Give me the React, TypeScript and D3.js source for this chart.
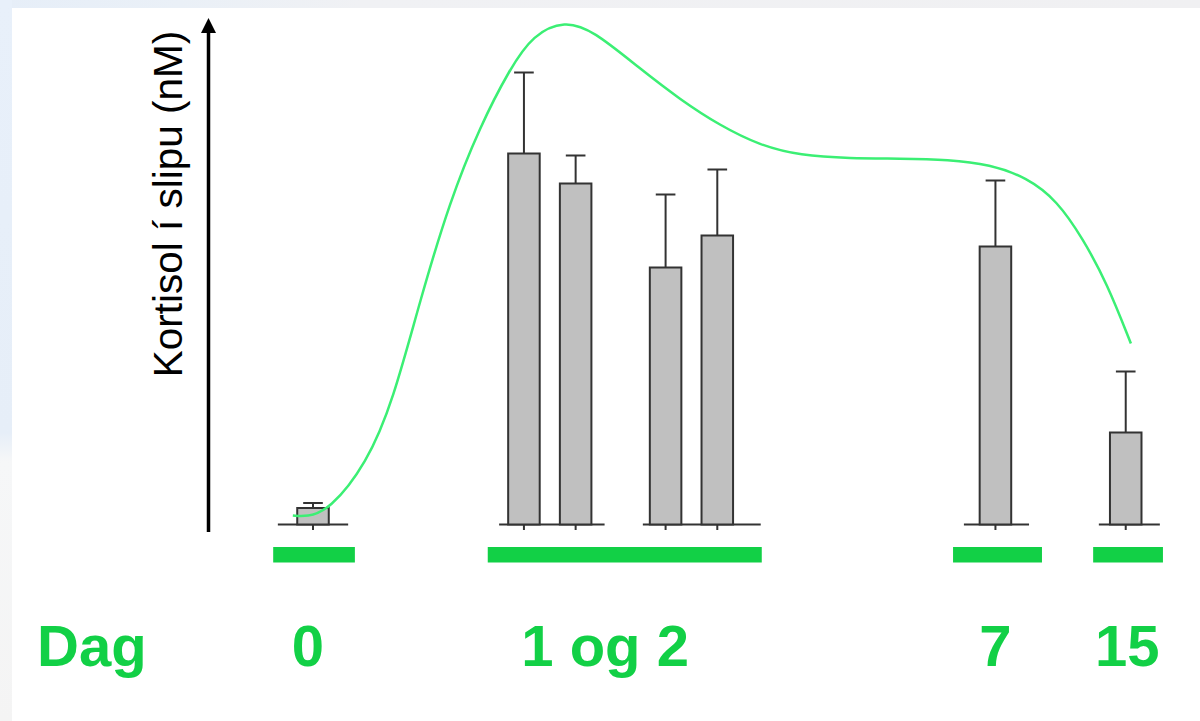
import React from "react";
import * as d3 from "d3";

// ---- Data ----
const barPositions = [0, 4.08, 5.08, 6.82, 7.82, 13.2, 15.72]; // x position units
const barValues = [1.65, 37.1, 34.1, 25.7, 28.9, 27.8, 9.2]; // nM
const barErrors = [0.5, 8.1, 2.8, 7.3, 6.6, 6.6, 6.1]; // nM (upper SD)

// baseline segments under bar groups [start, end] in position units
const baselineStarts = [-0.68, 3.6, 6.38, 12.59, 15.2];
const baselineEnds = [0.68, 5.64, 8.66, 13.85, 16.38];

// day labels and their green marker bars
const dayLabels = ["0", "1 og 2", "7", "15"];
const dayLabelPos = [-0.1, 5.65, 13.2, 15.75];
const dayBarStarts = [-0.77, 3.38, 12.38, 15.09];
const dayBarEnds = [0.81, 8.68, 14.1, 16.44];

// schematic trend curve
const trendX = [-0.39, -0.12, 0.31, 1.04, 1.55, 2.07, 2.65, 3.23, 3.81, 4.26, 4.87, 5.42, 6.32, 7.1, 7.87, 8.65, 9.42, 10.39, 11.35, 12.3, 13.09, 13.81, 14.39, 14.89, 15.36, 15.82];
const trendY = [0.9, 0.77, 1.4, 6.1, 12.4, 22.4, 32.4, 39.8, 45.6, 49.0, 50.4, 49.4, 45.6, 42.5, 39.9, 37.9, 36.9, 36.6, 36.6, 36.5, 36.0, 34.7, 32.4, 28.6, 24.1, 18.1];

const yLabel = "Kortisol í slipu (nM)";
const xTitle = "Dag";

export default function App() {
  const W = 1200;
  const H = 721;
  const x = d3.scaleLinear().domain([0, 16]).range([313, 313 + 16 * 51.7]);
  const y = d3.scaleLinear().domain([0, 50]).range([524.5, 24.5]);
  const unit = x(1) - x(0);
  const barW = 0.61 * unit;
  const capW = 0.38 * unit;
  const green = "#12d046";
  const stroke = "#333333";

  const line = d3
    .line<number>()
    .x((_, i) => x(trendX[i]))
    .y((d) => y(d))
    .curve(d3.curveBasis);

  const axisX = 208.5;

  return (
    <svg
      width={W}
      height={H}
      style={{ position: "absolute", left: 0, top: 0, display: "block" }}
    >
      <defs>
        <linearGradient id="topg" x1="0" x2="1" y1="0" y2="0">
          <stop offset="0" stopColor="#e6eef8" />
          <stop offset="0.15" stopColor="#eaf0f7" />
          <stop offset="0.3" stopColor="#f0f1f4" />
          <stop offset="1" stopColor="#f0f0f2" />
        </linearGradient>
        <linearGradient id="leftg" x1="0" x2="0" y1="0" y2="1">
          <stop offset="0" stopColor="#e8f0fa" />
          <stop offset="0.6" stopColor="#e6eef8" />
          <stop offset="0.64" stopColor="#f6f7f8" />
          <stop offset="1" stopColor="#f4f4f4" />
        </linearGradient>
      </defs>
      <rect x={0} y={0} width={W} height={H} fill="#ffffff" />
      <rect x={0} y={0} width={W} height={8} fill="url(#topg)" />
      <rect x={0} y={0} width={12} height={H} fill="url(#leftg)" />

      {/* y axis with arrow */}
      <line x1={axisX} x2={axisX} y1={532} y2={30} stroke="#000" strokeWidth={3.5} />
      <path
        d={`M${axisX - 7.5},33 L${axisX},18 L${axisX + 7.5},33 Z`}
        fill="#000"
      />
      <text
        transform={`translate(181.5,204) rotate(-90)`}
        textAnchor="middle"
        fontFamily="Liberation Sans, Arial, sans-serif"
        fontSize={40.5}
        fill="#000"
      >
        {yLabel}
      </text>

      {/* baseline segments */}
      {baselineStarts.map((s, i) => (
        <line
          key={"b" + i}
          x1={x(s)}
          x2={x(baselineEnds[i])}
          y1={y(0)}
          y2={y(0)}
          stroke={stroke}
          strokeWidth={2}
        />
      ))}
      {barPositions.map((p, i) => (
        <line
          key={"t" + i}
          x1={x(p)}
          x2={x(p)}
          y1={y(0)}
          y2={y(0) + 5.5}
          stroke={stroke}
          strokeWidth={2}
        />
      ))}

      {/* error bars */}
      {barPositions.map((p, i) => (
        <g key={"e" + i} stroke={stroke} strokeWidth={2}>
          <line x1={x(p)} x2={x(p)} y1={y(barValues[i])} y2={y(barValues[i] + barErrors[i])} />
          <line
            x1={x(p) - capW / 2}
            x2={x(p) + capW / 2}
            y1={y(barValues[i] + barErrors[i])}
            y2={y(barValues[i] + barErrors[i])}
          />
        </g>
      ))}

      {/* bars */}
      {barPositions.map((p, i) => (
        <rect
          key={"r" + i}
          x={x(p) - barW / 2}
          y={y(barValues[i])}
          width={barW}
          height={y(0) - y(barValues[i])}
          fill="#c0c0c0"
          stroke={stroke}
          strokeWidth={2}
        />
      ))}

      {/* trend curve */}
      <path d={line(trendY) || ""} fill="none" stroke="#3bef74" strokeWidth={2.5} />

      {/* green day markers */}
      {dayBarStarts.map((s, i) => (
        <rect
          key={"g" + i}
          x={x(s)}
          y={547}
          width={x(dayBarEnds[i]) - x(s)}
          height={15.5}
          fill={green}
        />
      ))}

      {/* labels */}
      <text
        x={37}
        y={666}
        fontFamily="Liberation Sans, Arial, sans-serif"
        fontWeight="bold"
        fontSize={58}
        fill={green}
      >
        {xTitle}
      </text>
      {dayLabels.map((t, i) => (
        <text
          key={"l" + i}
          x={x(dayLabelPos[i])}
          y={666}
          textAnchor="middle"
          fontFamily="Liberation Sans, Arial, sans-serif"
          fontWeight="bold"
          fontSize={58}
          fill={green}
        >
          {t}
        </text>
      ))}
    </svg>
  );
}
